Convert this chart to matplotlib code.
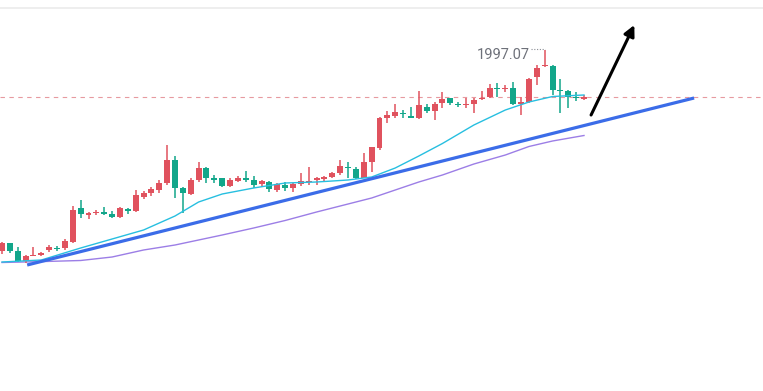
import numpy as np
import matplotlib
matplotlib.use('Agg')
import matplotlib.pyplot as plt
from matplotlib.lines import Line2D

# candle data, one entry per bar
opens = [1896.5, 1900.5, 1896.5, 1891.5, 1894, 1894.75, 1897, 1898, 1898, 1901,
         1918, 1914.5, 1915.5, 1916, 1915, 1913.5, 1917.5, 1916.5, 1923.5, 1925.5,
         1927, 1930.5, 1942, 1928, 1925, 1932, 1938, 1933, 1933, 1929,
         1931.5, 1933, 1932, 1930, 1931, 1927, 1929.5, 1928, 1930, 1931,
         1932, 1932.75, 1933.5, 1935.5, 1938.5, 1937.5, 1933, 1941, 1948, 1963,
         1964, 1965.75, 1964, 1963, 1968.5, 1966.5, 1970.5, 1973, 1970, 1969.5,
         1970, 1972.5, 1973.5, 1978, 1977.5, 1978, 1970, 1971, 1983.5, 1989,
         1989, 1977, 1976.5, 1973.5, 1972.5]
closes = [1900.5, 1896.5, 1891.5, 1894, 1894.5, 1895.25, 1898.5, 1897.5, 1901.5, 1917,
          1915, 1915.5, 1916, 1915, 1913.5, 1918, 1916.5, 1924.5, 1925.5, 1927.5,
          1930.5, 1942, 1928, 1925.5, 1932, 1938, 1933, 1932, 1929, 1932,
          1933, 1932.25, 1929.5, 1931.5, 1927.5, 1930, 1928, 1930, 1931.5, 1931.5,
          1933, 1933.5, 1935.5, 1939, 1938, 1933, 1941, 1948.5, 1963, 1964.5,
          1966, 1965, 1963, 1969.5, 1966.5, 1970, 1972.5, 1970.5, 1969.5, 1970,
          1972, 1973, 1978, 1977.5, 1978, 1970, 1971, 1982.5, 1988, 1989.5,
          1977, 1976.5, 1973.5, 1973, 1973.5]
highs = [1901, 1900.5, 1898.5, 1894.5, 1898.5, 1896, 1899.5, 1899, 1902.5, 1919,
         1922, 1916, 1917, 1918.5, 1916.5, 1918.5, 1918, 1927, 1926.5, 1928.5,
         1932, 1949.5, 1944, 1928.5, 1933, 1941, 1938.5, 1934.5, 1933, 1933,
         1934, 1936.5, 1934, 1932, 1931.5, 1930.5, 1931, 1930.5, 1935.5, 1938.5,
         1933.5, 1934, 1936, 1942, 1941, 1938.5, 1945.5, 1948.5, 1963.5, 1966.5,
         1970, 1967, 1968.5, 1976.5, 1970, 1971, 1976, 1973, 1971, 1973,
         1973, 1976.5, 1980, 1980.5, 1979.5, 1981, 1973.5, 1983, 1989.5, 1997.07,
         1989.5, 1982.5, 1977, 1976, 1974.5]
lows = [1895, 1895.5, 1891, 1890.5, 1894, 1894, 1896, 1896.5, 1897, 1900.5,
        1913, 1912.5, 1914.5, 1914.5, 1913, 1913, 1915, 1916, 1922.5, 1924,
        1925.5, 1929.5, 1923, 1915.5, 1924.5, 1931, 1930.5, 1930.5, 1928.5, 1928.5,
        1931, 1931, 1928, 1928.5, 1926, 1926, 1926.5, 1926, 1929, 1929.5,
        1929.5, 1931, 1933, 1934.5, 1933, 1932.5, 1933, 1936, 1947, 1960.5,
        1963, 1963, 1963, 1962.5, 1965.5, 1962, 1968, 1969.5, 1968.5, 1968,
        1965.5, 1972, 1973, 1973.5, 1976, 1969.5, 1964.5, 1970.5, 1979.5, 1988.5,
        1974.5, 1965.5, 1968, 1971.5, 1972]

# moving averages, sampled at these bar indices
ma_idx = [0, 5, 10, 14, 18, 22, 25, 28, 32, 36, 40, 44, 47, 50, 53, 56, 60, 64, 67, 70, 74]
ma_fast = [1891, 1892, 1898, 1902.5, 1907, 1914, 1921, 1925, 1928, 1930.5, 1931,
           1932, 1933.5, 1938, 1944, 1950.25, 1959.5, 1967, 1971, 1973.75, 1974.5]
ma_slow = [1890.75, 1891.2, 1891.75, 1893.5, 1897, 1899.5, 1902, 1904.5, 1908, 1911.75,
           1916, 1920, 1923, 1927, 1931, 1934.5, 1940, 1944.5, 1948.75, 1951.5, 1954.25]

high_label = '1997.07'
trend_start = (3.2, 1889.5)
trend_end = (88, 1973)
arrow_start = (74.9, 1964.5)
arrow_end = (80.4, 2009.5)

up_col = '#e0525e'
down_col = '#12a68a'

fig = plt.figure(figsize=(7.63, 3.91), dpi=100)
ax = fig.add_axes([0, 0, 1, 1])
ax.set_xlim(-0.254, 96.76)
ax.set_ylim(1826.5, 2022)
ax.axis('off')

x = np.arange(len(opens))
o = np.array(opens)
c = np.array(closes)
cols = [up_col if cc >= oo else down_col for oo, cc in zip(o, c)]

# wicks + bodies
ax.vlines(x, lows, highs, colors=cols, linewidth=1.1, zorder=3)
body_h = np.maximum(np.abs(c - o), 0.7)
ax.bar(x, body_h, bottom=np.minimum(o, c), width=0.76, color=cols, linewidth=0, zorder=4)

# MA lines
ax.plot(ma_idx, ma_fast, color='#27bfe0', linewidth=1.0, zorder=5)
ax.plot(ma_idx, ma_slow, color='#9c7ee6', linewidth=1.0, zorder=2)

# last price line
ax.axhline(closes[-1], color='#e79aa0', linewidth=0.8, linestyle=(0, (4, 4)), zorder=1)

# trendline
ax.plot([trend_start[0], trend_end[0]], [trend_start[1], trend_end[1]],
        color='#3b6ce8', linewidth=2.3, solid_capstyle='butt', zorder=6)

# arrow
ax.annotate('', xy=arrow_end, xytext=arrow_start,
            arrowprops=dict(arrowstyle='-|>', color='black', lw=2.2, mutation_scale=16,
                            shrinkA=0, shrinkB=0), zorder=7)

# high marker label
hi_i = int(np.argmax(highs))
ax.plot([hi_i - 1.7, hi_i], [highs[hi_i] + 0.3, highs[hi_i] + 0.3], color='#8a8d94',
        linewidth=0.8, linestyle=(0, (1, 1.5)), zorder=5)
ax.text(hi_i - 1.95, highs[hi_i] - 2.5, high_label, ha='right', va='center',
        fontsize=10.5, family='Roboto', color='#6e717a')

# thin border line at top
fig.add_artist(Line2D([0, 1], [1 - 8.3 / 391, 1 - 8.3 / 391], transform=fig.transFigure,
                      color='#eeeeee', linewidth=1.4))

fig.savefig('out.png', dpi=100)
